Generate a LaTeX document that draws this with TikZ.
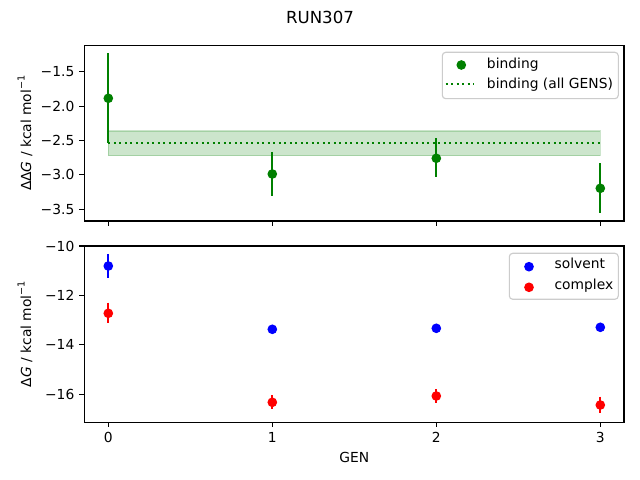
\documentclass[tikz,border=0pt]{standalone}
\usepackage{fontspec}
\setmainfont{DejaVu Sans}
\definecolor{mgreen}{HTML}{008000}
\definecolor{mblue}{HTML}{0000FF}
\definecolor{mred}{HTML}{FF0000}
\begin{document}
\begin{tikzpicture}[x=0.72bp,y=-0.72bp,
  spine/.style={line width=0.8pt, black},
  tickmark/.style={line width=0.8pt, black},
  ticklab/.style={font=\fontsize{10}{12}\selectfont, inner sep=0pt},
  labtext/.style={font=\fontsize{10}{12}\selectfont, inner sep=0pt},
  ebar/.style={line width=1.5pt},
  dot/.style={circle, inner sep=0pt, minimum size=7pt},
  legendbox/.style={draw=black!20, fill=white, fill opacity=0.8, draw opacity=1, rounded corners=2.5pt, line width=0.8pt}
]
\useasboundingbox (0,0) rectangle (640,480);
\fill[white] (0,0) rectangle (640,480);

% title
\node[font=\fontsize{12}{14}\selectfont, inner sep=0pt] (title) at (320,17.2) {RUN307};

% ================= top axes =================
% band and mean
\fill[mgreen, opacity=0.2] (108.3,131) rectangle (600.3,155.7);
\draw[mgreen, opacity=0.2, line width=0.8pt] (108.3,131) rectangle (600.3,155.7);
% error bars
\draw[ebar, mgreen] (108.3,53.3) -- (108.3,143.3);
\draw[ebar, mgreen] (272.3,152) -- (272.3,196);
\draw[ebar, mgreen] (436.3,138.3) -- (436.3,177.3);
\draw[ebar, mgreen] (600.3,163.3) -- (600.3,212.7);
\draw[mgreen, line width=1.5pt, dash pattern=on 1.5pt off 2.475pt] (108.3,143) -- (600.3,143);
\node[dot, fill=mgreen] (b0) at (108.3,98.3) {};
\node[dot, fill=mgreen] (b1) at (272.3,174) {};
\node[dot, fill=mgreen] (b2) at (436.3,158.3) {};
\node[dot, fill=mgreen] (b3) at (600.3,188.3) {};

% spines
\draw[spine] (84.3,45.3) rectangle (624,221);
% y ticks
\foreach \yy/\lab in {71.7/−1.5, 106.1/−2.0, 140.5/−2.5, 174.9/−3.0, 209.3/−3.5} {
  \draw[tickmark] (84.3,\yy) -- (79.44,\yy);
  \node[ticklab, anchor=east] at (74.6,\yy) {\lab};
}
% x ticks (no labels)
\foreach \xx in {108.3,272.3,436.3,600.3} {
  \draw[tickmark] (\xx,221) -- (\xx,225.86);
}
\node[labtext, rotate=90, anchor=base] (ylab1) at (31,133.2) {ΔΔ\textit{G} / kcal mol\raisebox{0.85ex}{\fontsize{7}{7}\selectfont −1}};

% legend 1
\draw[legendbox] (442.3,52.3) rectangle (618.3,98.7);
\node[dot, fill=mgreen] (lb) at (461.3,65) {};
\draw[mgreen, line width=1.5pt, dash pattern=on 1.5pt off 2.475pt] (445.7,84.3) -- (474,84.3);
\node[labtext, anchor=base west] (lt1) at (486.7,69) {binding};
\node[labtext, anchor=base west] (lt2) at (486.7,89) {binding (all GENS)};

% ================= bottom axes =================
\draw[ebar, mblue] (108.3,254) -- (108.3,278.3);
\draw[ebar, mred] (108.3,302.7) -- (108.3,322.7);
\draw[ebar, mred] (272.3,395) -- (272.3,409.3);
\draw[ebar, mred] (436.3,389.3) -- (436.3,402.7);
\draw[ebar, mred] (600.3,396.7) -- (600.3,413.3);
\node[dot, fill=mblue] (s0) at (108.3,266) {};
\node[dot, fill=mblue] (s1) at (272.3,329.3) {};
\node[dot, fill=mblue] (s2) at (436.3,328.3) {};
\node[dot, fill=mblue] (s3) at (600.3,327.3) {};
\node[dot, fill=mred] (c0) at (108.3,313.3) {};
\node[dot, fill=mred] (c1) at (272.3,402.3) {};
\node[dot, fill=mred] (c2) at (436.3,396) {};
\node[dot, fill=mred] (c3) at (600.3,405) {};

\draw[spine] (84.3,246) rectangle (624,422.3);
\foreach \yy/\lab in {246/−10, 295.4/−12, 344.8/−14, 394.2/−16} {
  \draw[tickmark] (84.3,\yy) -- (79.44,\yy);
  \node[ticklab, anchor=east] at (74.6,\yy) {\lab};
}
\foreach \xx/\lab in {108.3/0,272.3/1,436.3/2,600.3/3} {
  \draw[tickmark] (\xx,422.3) -- (\xx,427.16);
  \node[ticklab, anchor=north] at (\xx,432) {\lab};
}
\node[labtext, anchor=north] (xlab) at (354.2,451.5) {GEN};
\node[labtext, rotate=90, anchor=base] (ylab2) at (31,334.2) {Δ\textit{G} / kcal mol\raisebox{0.85ex}{\fontsize{7}{7}\selectfont −1}};

% legend 2
\draw[legendbox] (509.3,253.3) rectangle (618.3,299.3);
\node[dot, fill=mblue] (ls) at (529,266.7) {};
\node[dot, fill=mred] (lc) at (529,287.3) {};
\node[labtext, anchor=base west] (lt3) at (554.3,269) {solvent};
\node[labtext, anchor=base west] (lt4) at (554.3,290) {complex};
\end{tikzpicture}
\end{document}
